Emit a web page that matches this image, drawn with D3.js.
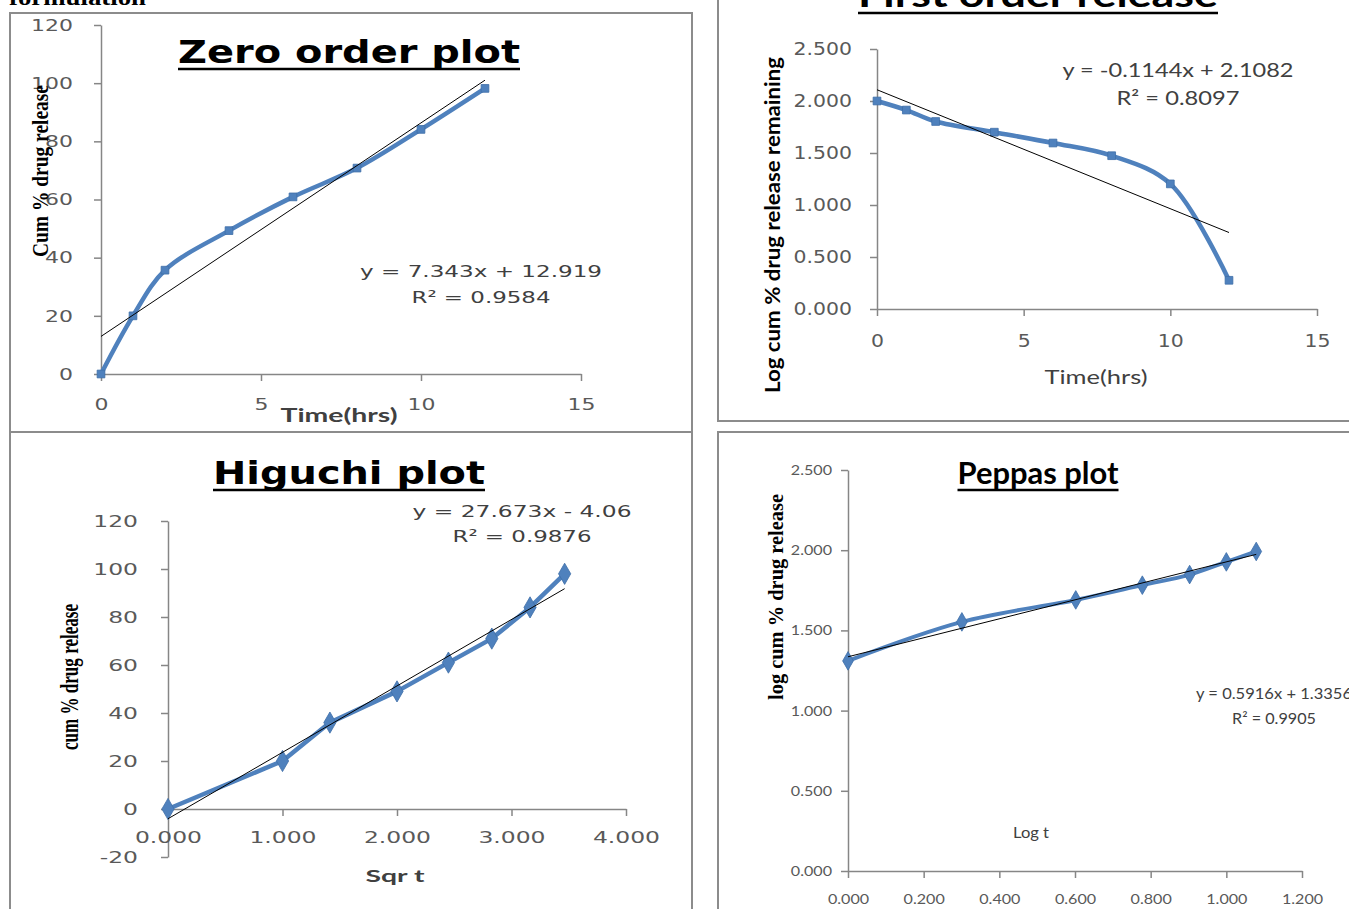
<!DOCTYPE html>
<html>
<head>
<meta charset="utf-8">
<script src="https://cdn.jsdelivr.net/npm/d3@7"></script>
<style>
  body { margin: 0; background: #fff; }
  svg { display: block; overflow: hidden; }
</style>
</head>
<body>
<div id="chart"></div>
<script>
// release kinetics of the formulation, four fits

// data
var timeHrs = [0, 1, 2, 4, 6, 8, 10, 12];
var cumRelease = [0, 20, 35.7, 49.3, 60.9, 70.8, 84.1, 98.2];
var logRemaining = [2.000, 1.913, 1.803, 1.700, 1.596, 1.474, 1.203, 0.276];
var sqrtTime = [0, 1.000, 1.414, 2.000, 2.449, 2.828, 3.162, 3.464];
var higuchiRelease = [0, 20, 36, 49, 61, 71, 84, 98];
var logTime = [0, 0.301, 0.602, 0.778, 0.903, 1.000, 1.079];
var logCumRelease = [1.310, 1.553, 1.690, 1.782, 1.848, 1.927, 1.992];

// trend line coefficients (from the printed equations)
var zeroFit = [7.343, 12.919];
var firstFit = [-0.1144, 2.1082];
var higuchiFit = [27.673, -4.06];
var peppasFit = [0.5916, 1.3356];

// tick values
var zeroXTicks = [0, 5, 10, 15], zeroYTicks = [0, 20, 40, 60, 80, 100, 120];
var firstXTicks = [0, 5, 10, 15], firstYTicks = [0, 0.5, 1, 1.5, 2, 2.5];
var higXTicks = [0, 1, 2, 3, 4], higYTicks = [-20, 0, 20, 40, 60, 80, 100, 120];
var pepXTicks = [0, 0.2, 0.4, 0.6, 0.8, 1.0, 1.2], pepYTicks = [0, 0.5, 1, 1.5, 2, 2.5];

var blue = "#4f81bd",
    axisGrey = "#868686",
    tickGrey = "#595959",
    textGrey = "#404040";

// plain hyphen for negatives, like the original
var locale = d3.formatLocale({ decimal: ".", thousands: ",", grouping: [3], currency: ["", ""], minus: "-" });

var svg = d3.select("#chart")
    .append("svg")
    .attr("width", 1349)
    .attr("height", 909);

// stretch a text to a given pixel width
function fitText(sel, w) {
    sel.attr("textLength", w).attr("lengthAdjust", "spacingAndGlyphs");
    return sel;
}

// stretch every tick label by a factor
function stretchTicks(g, sx) {
    g.selectAll(".tick text").each(function () {
        var w = this.getComputedTextLength();
        d3.select(this).attr("textLength", w * sx).attr("lengthAdjust", "spacingAndGlyphs");
    });
}

// panel frames
var frames = [
    [10, 13, 682, 419],
    [718, -5, 650, 426],
    [10, 432, 682, 490],
    [718, 432, 650, 490]
];
svg.selectAll("rect.frame")
    .data(frames)
    .enter().append("rect")
    .attr("class", "frame")
    .attr("x", function (d) { return d[0]; })
    .attr("y", function (d) { return d[1]; })
    .attr("width", function (d) { return d[2]; })
    .attr("height", function (d) { return d[3]; })
    .attr("fill", "none")
    .attr("stroke", "#8c8c8c")
    .attr("stroke-width", 2);

// heading cut off at the top
fitText(svg.append("text")
    .attr("x", 9)
    .attr("y", 5)
    .attr("font-family", "Liberation Serif")
    .attr("font-weight", "bold")
    .attr("font-size", 24)
    .attr("fill", "#000")
    .text("formulation"), 137);

function drawPanel(p) {
    var x = d3.scaleLinear().domain(p.xDomain).range(p.xRange);
    var y = d3.scaleLinear().domain(p.yDomain).range(p.yRange);
    var g = svg.append("g");

    // axes
    var yAxis = d3.axisLeft(y)
        .tickValues(p.yTicks)
        .tickSize(7)
        .tickSizeOuter(0)
        .tickPadding(p.yPad)
        .tickFormat(locale.format(p.yFmt));
    var xAxis = d3.axisBottom(x)
        .tickValues(p.xTicks)
        .tickSize(7)
        .tickSizeOuter(0)
        .tickPadding(p.xPad)
        .tickFormat(locale.format(p.xFmt));

    var yg = g.append("g")
        .attr("transform", "translate(" + x(0) + ",0)")
        .call(yAxis);
    var xg = g.append("g")
        .attr("transform", "translate(0," + y(0) + ")")
        .call(xAxis);

    [yg, xg].forEach(function (a) {
        a.select(".domain").attr("stroke", axisGrey).attr("stroke-width", 1.5);
        a.selectAll(".tick line").attr("stroke", axisGrey).attr("stroke-width", 1.5);
        a.selectAll(".tick text")
            .attr("fill", tickGrey)
            .attr("font-family", p.tickFont)
            .attr("font-size", p.tickSize);
        stretchTicks(a, p.tickStretch);
    });

    // series
    var pts = p.xs.map(function (v, i) { return [v, p.ys[i]]; });
    var line = d3.line()
        .x(function (d) { return x(d[0]); })
        .y(function (d) { return y(d[1]); })
        .curve(p.curve);

    g.append("path")
        .attr("d", line(pts))
        .attr("fill", "none")
        .attr("stroke", blue)
        .attr("stroke-width", p.lineWidth)
        .attr("stroke-linejoin", "round");

    g.selectAll("path.marker")
        .data(pts)
        .enter().append("path")
        .attr("class", "marker")
        .attr("transform", function (d) { return "translate(" + x(d[0]) + "," + y(d[1]) + ")"; })
        .attr("d", d3.symbol().type(p.marker).size(p.markerArea))
        .attr("fill", blue)
        .attr("stroke", "#3f6fa8")
        .attr("stroke-width", 0.8);

    // linear trend line over the data range
    var x0 = d3.min(p.xs), x1 = d3.max(p.xs);
    g.append("line")
        .attr("x1", x(x0))
        .attr("y1", y(p.fit[0] * x0 + p.fit[1]))
        .attr("x2", x(x1))
        .attr("y2", y(p.fit[0] * x1 + p.fit[1]))
        .attr("stroke", "#000")
        .attr("stroke-width", 1);

    // title with underline
    fitText(g.append("text")
        .attr("x", p.title.x)
        .attr("y", p.title.y)
        .attr("text-anchor", "middle")
        .attr("font-family", p.title.font)
        .attr("font-weight", "bold")
        .attr("font-size", p.title.size)
        .attr("fill", "#000")
        .text(p.title.text), p.title.w);
    g.append("line")
        .attr("x1", p.title.x - p.title.w / 2)
        .attr("x2", p.title.x + p.title.w / 2)
        .attr("y1", p.title.y + p.title.ul)
        .attr("y2", p.title.y + p.title.ul)
        .attr("stroke", "#000")
        .attr("stroke-width", 2.5);

    // y label, rotated
    fitText(g.append("text")
        .attr("transform", "translate(" + p.yLabel.x + "," + p.yLabel.y + ") rotate(-90)")
        .attr("text-anchor", "middle")
        .attr("font-family", p.yLabel.font)
        .attr("font-weight", "bold")
        .attr("font-size", p.yLabel.size)
        .attr("fill", "#000")
        .text(p.yLabel.text), p.yLabel.w);

    // x label
    fitText(g.append("text")
        .attr("x", p.xLabel.x)
        .attr("y", p.xLabel.y)
        .attr("text-anchor", "middle")
        .attr("font-family", p.xLabel.font)
        .attr("font-weight", p.xLabel.weight)
        .attr("font-size", p.xLabel.size)
        .attr("fill", textGrey)
        .text(p.xLabel.text), p.xLabel.w);

    // equation and r squared
    p.eq.lines.forEach(function (l) {
        fitText(g.append("text")
            .attr("x", p.eq.x)
            .attr("y", l.y)
            .attr("text-anchor", "middle")
            .attr("font-family", p.eq.font)
            .attr("font-size", p.eq.size)
            .attr("fill", textGrey)
            .text(l.text), l.w);
    });
}

// zero order
drawPanel({
    xs: timeHrs, ys: cumRelease, fit: zeroFit,
    xDomain: [0, 15], xRange: [101, 581],
    yDomain: [0, 120], yRange: [374, 25],
    xTicks: zeroXTicks, yTicks: zeroYTicks, xFmt: "d", yFmt: "d",
    xPad: 17, yPad: 21,
    tickFont: "DejaVu Sans", tickSize: 16.5, tickStretch: 1.33,
    curve: d3.curveCatmullRom.alpha(0.5), lineWidth: 4.5,
    marker: d3.symbolSquare, markerArea: 60,
    title: { text: "Zero order plot", x: 349, y: 63, w: 342, size: 32, font: "DejaVu Sans", ul: 6 },
    yLabel: { text: "Cum % drug release", x: 48, y: 171, w: 172, size: 23, font: "Liberation Serif" },
    xLabel: { text: "Time(hrs)", x: 339, y: 422, w: 117, size: 19, font: "Lato", weight: "bold" },
    eq: { x: 481, size: 16.5, font: "DejaVu Sans", lines: [
        { text: "y = 7.343x + 12.919", y: 277, w: 242 },
        { text: "R² = 0.9584", y: 303, w: 139 }
    ] }
});

// first order
drawPanel({
    xs: timeHrs, ys: logRemaining, fit: firstFit,
    xDomain: [0, 15], xRange: [877, 1317],
    yDomain: [0, 2.5], yRange: [309, 49],
    xTicks: firstXTicks, yTicks: firstYTicks, xFmt: "d", yFmt: ".3f",
    xPad: 19, yPad: 18,
    tickFont: "DejaVu Sans", tickSize: 17, tickStretch: 1.2,
    curve: d3.curveCatmullRom.alpha(0.5), lineWidth: 4.5,
    marker: d3.symbolSquare, markerArea: 60,
    title: { text: "First order release", x: 1038, y: 7, w: 360, size: 34, font: "Lato", ul: 6 },
    yLabel: { text: "Log cum % drug release remaining", x: 780, y: 225, w: 336, size: 20, font: "Lato" },
    xLabel: { text: "Time(hrs)", x: 1096, y: 384, w: 103, size: 19, font: "Lato", weight: "normal" },
    eq: { x: 1178, size: 19, font: "Lato", lines: [
        { text: "y = -0.1144x + 2.1082", y: 77, w: 231 },
        { text: "R² = 0.8097", y: 105, w: 123 }
    ] }
});

// higuchi
drawPanel({
    xs: sqrtTime, ys: higuchiRelease, fit: higuchiFit,
    xDomain: [0, 4], xRange: [168, 626],
    yDomain: [-20, 120], yRange: [857, 521],
    xTicks: higXTicks, yTicks: higYTicks, xFmt: ".3f", yFmt: "d",
    xPad: 15, yPad: 23,
    tickFont: "DejaVu Sans", tickSize: 16.5, tickStretch: 1.42,
    curve: d3.curveLinear, lineWidth: 4.5,
    marker: d3.symbolDiamond, markerArea: 130,
    title: { text: "Higuchi plot", x: 349, y: 484, w: 272, size: 32, font: "DejaVu Sans", ul: 6 },
    yLabel: { text: "cum % drug release", x: 78, y: 677, w: 146, size: 25, font: "Liberation Serif" },
    xLabel: { text: "Sqr t", x: 395, y: 882, w: 59, size: 17, font: "Lato", weight: "bold" },
    eq: { x: 522, size: 16.5, font: "DejaVu Sans", lines: [
        { text: "y = 27.673x - 4.06", y: 517, w: 219 },
        { text: "R² = 0.9876", y: 542, w: 139 }
    ] }
});

// peppas
drawPanel({
    xs: logTime, ys: logCumRelease, fit: peppasFit,
    xDomain: [0, 1.2], xRange: [848, 1302],
    yDomain: [0, 2.5], yRange: [871, 470],
    xTicks: pepXTicks, yTicks: pepYTicks, xFmt: ".3f", yFmt: ".3f",
    xPad: 16, yPad: 9,
    tickFont: "Lato", tickSize: 14, tickStretch: 1.15,
    curve: d3.curveCatmullRom.alpha(0.5), lineWidth: 4,
    marker: d3.symbolDiamond, markerArea: 100,
    title: { text: "Peppas plot", x: 1038, y: 484, w: 161, size: 30, font: "Lato", ul: 6 },
    yLabel: { text: "log cum % drug release", x: 783, y: 597, w: 206, size: 21, font: "Liberation Serif" },
    xLabel: { text: "Log t", x: 1031, y: 838, w: 36, size: 15, font: "Lato", weight: "normal" },
    eq: { x: 1274, size: 15, font: "Lato", lines: [
        { text: "y = 0.5916x + 1.3356", y: 699, w: 156 },
        { text: "R² = 0.9905", y: 724, w: 84 }
    ] }
});
</script>
</body>
</html>
